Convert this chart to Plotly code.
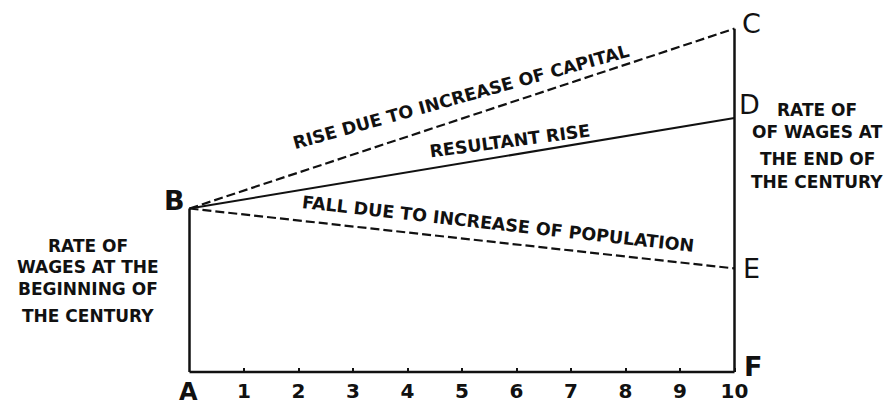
import plotly.graph_objects as go

# ---- data (wage rates, arbitrary units; years in tenths of the century) ----
years = [0, 10]
tick_values = [1, 2, 3, 4, 5, 6, 7, 8, 9, 10]
tick_labels = ["1", "2", "3", "4", "5", "6", "7", "8", "9", "10"]
wage_start = 3.0          # B
rise_capital_end = 6.3    # C
resultant_end = 4.66      # D
fall_population_end = 1.9 # E
base_level = 0.0          # A / F

W, H = 890, 407
# pixel mapping used only for layout ranges
X0_PX, UNIT = 189.5, 54.5
Y0_PX = 372.0
x_range = [-X0_PX / UNIT, (W - X0_PX) / UNIT]
y_range = [-(H - Y0_PX) / UNIT, Y0_PX / UNIT]

BLK = "#111111"
fig = go.Figure()

# baseline A-F
fig.add_trace(go.Scatter(x=years, y=[base_level, base_level], mode="lines",
                         line=dict(color=BLK, width=2.5), hoverinfo="skip"))
# vertical A-B
fig.add_trace(go.Scatter(x=[years[0], years[0]], y=[base_level, wage_start], mode="lines",
                         line=dict(color=BLK, width=2.5), hoverinfo="skip"))
# vertical F-C
fig.add_trace(go.Scatter(x=[years[1], years[1]], y=[base_level, rise_capital_end], mode="lines",
                         line=dict(color=BLK, width=2.5), hoverinfo="skip"))
# B-C dashed (rise due to capital)
fig.add_trace(go.Scatter(x=years, y=[wage_start, rise_capital_end], mode="lines",
                         line=dict(color=BLK, width=2.2, dash="9px,4px"), hoverinfo="skip"))
# B-D solid (resultant)
fig.add_trace(go.Scatter(x=years, y=[wage_start, resultant_end], mode="lines",
                         line=dict(color=BLK, width=2), hoverinfo="skip"))
# B-E dashed (fall due to population)
fig.add_trace(go.Scatter(x=years, y=[wage_start, fall_population_end], mode="lines",
                         line=dict(color=BLK, width=2.2, dash="9px,4px"), hoverinfo="skip"))

FONT_B = "DejaVu Sans"

ann = []
def letter(text, x, y, xanchor, xshift, yshift, bold=True, size=27):
    ann.append(dict(x=x, y=y, xref="x", yref="y", text=text, showarrow=False,
                    xanchor=xanchor, yanchor="middle", xshift=xshift, yshift=yshift,
                    font=dict(family=FONT_B, size=size, color=BLK,
                              weight="bold" if bold else "normal")))

letter("A", years[0], base_level, "center", -1, -20, size=24)
letter("B", years[0], wage_start, "right", -3, 8)
letter("C", years[1], rise_capital_end, "left", 5, 5, bold=False)
letter("D", years[1], resultant_end, "left", 2, 14, bold=False)
letter("E", years[1], fall_population_end, "left", 6, 0, bold=False)
letter("F", years[1], base_level, "left", 7, 6)

def line_text(text, x, y, angle, size=17):
    ann.append(dict(x=x, y=y, xref="x", yref="y", text=text, showarrow=False,
                    textangle=angle, xanchor="center", yanchor="middle",
                    font=dict(family=FONT_B, size=size, color=BLK, weight="bold")))

line_text("RISE DUE TO INCREASE OF CAPITAL", 4.98, 5.05, -15.5, size=17.5)
line_text("RESULTANT RISE", 5.88, 4.24, -7.5, size=17.5)
line_text("FALL DUE TO INCREASE OF POPULATION", 5.66, 2.72, 6.4, size=17.5)

def side_text(text, px, py, size=17):
    ann.append(dict(x=px / W, y=1 - py / H, xref="paper", yref="paper", text=text,
                    showarrow=False, xanchor="center", yanchor="middle",
                    font=dict(family=FONT_B, size=size, color=BLK, weight="bold")))

for t, yy in [("RATE OF", 246), ("WAGES AT THE", 267), ("BEGINNING OF", 289), ("THE CENTURY", 316)]:
    side_text(t, 88, yy)
for t, yy in [("RATE OF", 110), ("OF WAGES AT", 132), ("THE END OF", 159), ("THE CENTURY", 182)]:
    side_text(t, 817, yy)

axis_pos = (0 - y_range[0]) / (y_range[1] - y_range[0])

fig.update_layout(
    width=W, height=H,
    margin=dict(l=0, r=0, t=0, b=0),
    paper_bgcolor="white", plot_bgcolor="white",
    showlegend=False,
    annotations=ann,
    xaxis=dict(range=x_range, showgrid=False, zeroline=False, showline=False,
               anchor="free", position=axis_pos,
               tickmode="array", tickvals=tick_values, ticktext=tick_labels,
               ticks="inside", ticklen=4, tickwidth=2, tickcolor=BLK,
               ticklabelstandoff=5,
               tickfont=dict(family=FONT_B, size=20, color=BLK, weight="bold")),
    yaxis=dict(range=y_range, visible=False, showgrid=False, zeroline=False),
)

fig.write_html("out.html", config={"displayModeBar": False},
               post_script="document.body.style.margin='0';document.body.style.overflow='hidden';")
